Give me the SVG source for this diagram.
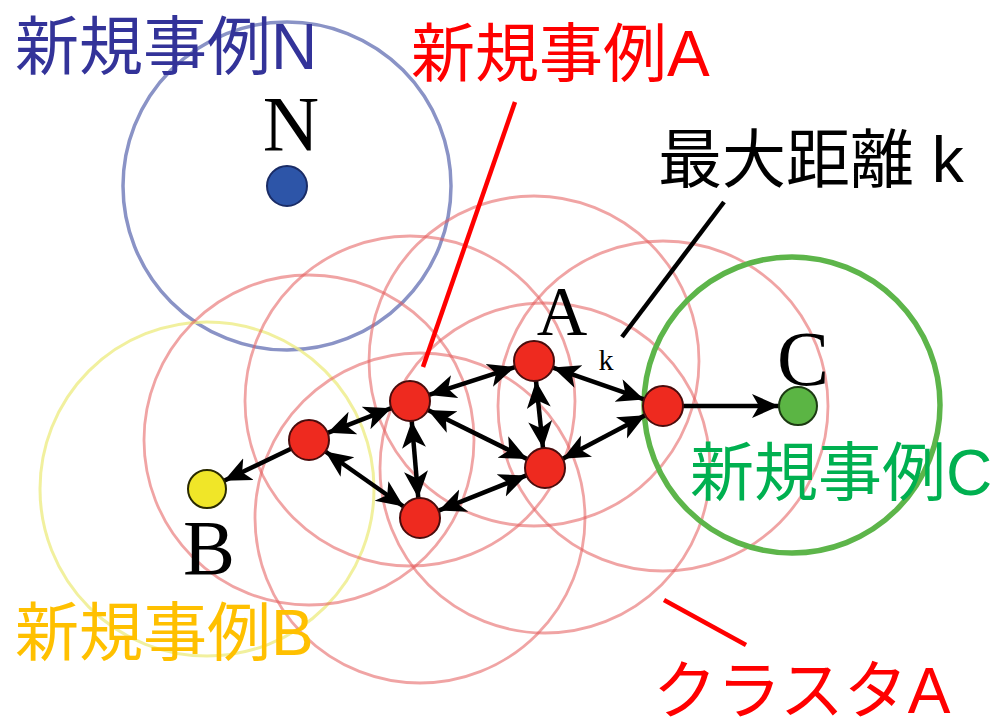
<svg xmlns="http://www.w3.org/2000/svg" width="997" height="726" viewBox="0 0 997 726">
<style>
.halo{fill:none;stroke:#e35a5a;stroke-width:2.8;opacity:0.55}
.edge{stroke:#000;stroke-width:4.5;fill:none}
.rn{fill:#ee2a1f;stroke:#4a0c0c;stroke-width:2}
.jp{font-family:"Liberation Sans","Noto Sans CJK JP",sans-serif;font-size:64px}
.ser{font-family:"Liberation Serif",serif;fill:#000;text-anchor:middle}
</style>
<defs>
<marker id="ah" markerUnits="userSpaceOnUse" markerWidth="30" markerHeight="26" refX="27" refY="12" orient="auto-start-reverse" viewBox="0 0 30 26">
<path d="M0,0 L27,12 L0,24 L7,12 z" fill="#000"/>
</marker>
</defs>
<rect width="997" height="726" fill="#fff"/>
<g id="halos">
<circle cx="287" cy="186" r="164" fill="none" stroke="#8a93c6" stroke-width="3.5"/>
<circle cx="207" cy="489" r="167" fill="none" stroke="#eeec86" stroke-width="3" opacity="0.8"/>
<circle class="halo" cx="309" cy="440" r="165"/>
<circle class="halo" cx="410" cy="401" r="165"/>
<circle class="halo" cx="534" cy="361" r="165"/>
<circle class="halo" cx="420" cy="518" r="165"/>
<circle class="halo" cx="545" cy="468" r="165"/>
<circle class="halo" cx="663" cy="406" r="165"/>
<circle cx="792" cy="405" r="148" fill="none" stroke="#5db54a" stroke-width="5.5"/>
</g>
<g id="connectors">
<line class="edge" x1="291" y1="448.7" x2="224.1" y2="480.8" marker-end="url(#ah)"/>
<line class="edge" x1="327.7" y1="432.8" x2="391.3" y2="408.2" marker-start="url(#ah)" marker-end="url(#ah)"/>
<line class="edge" x1="325.4" y1="451.5" x2="403.6" y2="506.5" marker-start="url(#ah)" marker-end="url(#ah)"/>
<line class="edge" x1="411.7" y1="420.9" x2="418.3" y2="498.1" marker-start="url(#ah)" marker-end="url(#ah)"/>
<line class="edge" x1="429" y1="394.9" x2="515" y2="367.1" marker-start="url(#ah)" marker-end="url(#ah)"/>
<line class="edge" x1="427.9" y1="409.9" x2="527.1" y2="459.1" marker-start="url(#ah)" marker-end="url(#ah)"/>
<line class="edge" x1="536" y1="380.9" x2="543" y2="448.1" marker-start="url(#ah)" marker-end="url(#ah)"/>
<line class="edge" x1="552.9" y1="367.6" x2="644.1" y2="399.4" marker-start="url(#ah)" marker-end="url(#ah)"/>
<line class="edge" x1="438.6" y1="510.6" x2="526.4" y2="475.4" marker-start="url(#ah)" marker-end="url(#ah)"/>
<line class="edge" x1="562.7" y1="458.7" x2="645.3" y2="415.3" marker-start="url(#ah)" marker-end="url(#ah)"/>
<line class="edge" x1="683" y1="406" x2="779" y2="406" stroke-width="3.5" marker-end="url(#ah)"/>
</g>
<g id="node-N">
<circle cx="287" cy="186" r="20" fill="#2d55a8" stroke="#1a2c66" stroke-width="2"/>
<text class="ser" x="291" y="150" font-size="78">N</text>
</g>
<g id="node-B">
<circle cx="207" cy="489" r="19" fill="#f0e628" stroke="#2a2a00" stroke-width="2"/>
<text class="ser" x="209" y="574" font-size="78">B</text>
</g>
<g id="node-C">
<circle cx="798" cy="406" r="19" fill="#5bb544" stroke="#1c3a12" stroke-width="2"/>
<text class="ser" x="803" y="385" font-size="78">C</text>
</g>
<g id="node-R1"><circle class="rn" cx="309" cy="440" r="20"/></g>
<g id="node-R2"><circle class="rn" cx="410" cy="401" r="20"/></g>
<g id="node-A">
<circle class="rn" cx="534" cy="361" r="20"/>
<text class="ser" x="562" y="335" font-size="70">A</text>
</g>
<g id="node-R4"><circle class="rn" cx="420" cy="518" r="20"/></g>
<g id="node-R5"><circle class="rn" cx="545" cy="468" r="20"/></g>
<g id="node-R6"><circle class="rn" cx="663" cy="406" r="20"/></g>
<g id="label-k"><text class="ser" x="606" y="370" font-size="30">k</text></g>
<g id="callouts">
<line x1="515" y1="102" x2="423" y2="367" stroke="#ff0000" stroke-width="4.5"/>
<line x1="724" y1="202" x2="622" y2="337" stroke="#000" stroke-width="4.5"/>
<line x1="664" y1="600" x2="746" y2="645" stroke="#ff0000" stroke-width="4.5"/>
</g>
<g id="labels">
<text class="jp" x="15" y="69" fill="#333399">新規事例N</text>
<text class="jp" x="411" y="76" fill="#ff0000">新規事例A</text>
<text class="jp" x="658" y="182" fill="#000" font-size="66">最大距離 k</text>
<text class="jp" x="690" y="495" fill="#00b050">新規事例C</text>
<text class="jp" x="15" y="655" fill="#ffc000">新規事例B</text>
<text class="jp" x="653" y="713" fill="#ff0000">クラスタA</text>
</g>
</svg>
